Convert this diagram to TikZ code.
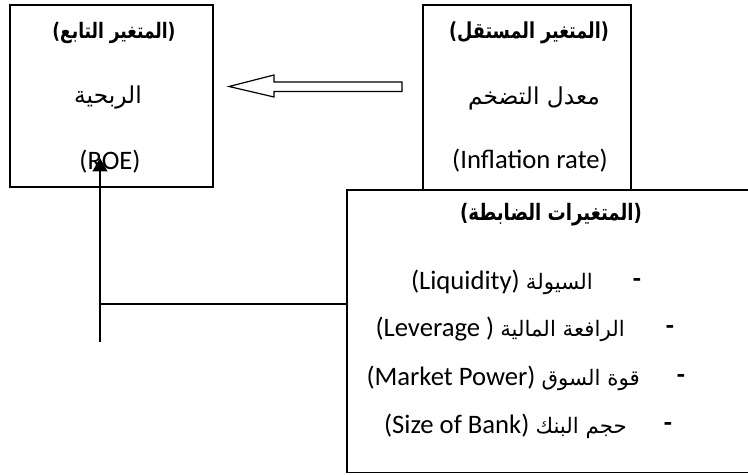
\documentclass[tikz,border=0pt]{standalone}
\usepackage{fontspec}
\setmainfont{Carlito}
\newfontfamily\arabicfont[Script=Arabic]{DejaVu Sans}
\newfontfamily\arabicbold[Script=Arabic,FakeStretch=0.8]{DejaVu Sans Bold}
\newfontfamily\dvsb[FakeStretch=0.8]{DejaVu Sans Bold}
\TeXXeTstate=1
\usetikzlibrary{arrows.meta}
\newcommand{\artitle}[1]{{\dvsb(}\beginR #1\endR{\dvsb)}}
\newcommand{\arword}[1]{{\arabicfont\fontsize{16}{19}\selectfont\beginR #1\endR}}
\begin{document}
\begin{tikzpicture}[x=0.75pt,y=-0.75pt,
  box/.style={draw,line width=1.2pt,fill=white,inner sep=0pt},
  conn/.style={line width=1.5pt},
  hollow/.style={line width=0.9pt,fill=white},
  lat/.style={inner sep=0pt,font=\fontsize{20}{24}\selectfont},
  dashmark/.style={inner sep=0pt,font=\bfseries\fontsize{20}{24}\selectfont},
  ar/.style={inner sep=0pt,font=\arabicfont\fontsize{17.5}{21}\selectfont},
  arb/.style={inner sep=0pt,font=\arabicbold\fontsize{#1}{20}\selectfont},
  arb/.default=16]
\clip (0,0) rectangle (748,474);
% boxes
\node[box,minimum width=152.25pt,minimum height=136.5pt] (dep) at (111.5,96) {};
\node[box,minimum width=156pt,minimum height=138.75pt] (ind) at (527,97.5) {};
\node[box,minimum width=309.75pt,minimum height=212pt] (ctl) at (553.5,331.3) {};
% left box texts
\node[arb=16] (deptitle) at (114,33) {\artitle{المتغير التابع}};
\node[ar] (depname) at (108,97) {\beginR الربحية\endR};
\node[lat] (depen) at (110,162) {(ROE)};
% right box texts
\node[arb=16.5] (indtitle) at (529,33) {\artitle{المتغير المستقل}};
\node[ar] (indname) at (534,98) {\beginR معدل التضخم\endR};
\node[lat] (inden) at (530,161) {(Inflation rate)};
% control box texts
\node[arb=17] (ctltitle) at (551,215) {\artitle{المتغيرات الضابطة}};
\node[lat,anchor=east] (liq) at (593,282) {(Liquidity) \arword{السيولة}};
\node[dashmark] (liqd) at (637,283) {-};
\node[lat,anchor=east] (lev) at (625,329) {(Leverage ) \arword{الرافعة المالية}};
\node[dashmark] (levd) at (670,330) {-};
\node[lat,anchor=east] (mkt) at (640,378) {(Market Power) \arword{قوة السوق}};
\node[dashmark] (mktd) at (681,379) {-};
\node[lat,anchor=east] (siz) at (627,426) {(Size of Bank) \arword{حجم البنك}};
\node[dashmark] (sizd) at (668,427) {-};
% hollow arrow from independent to dependent
\draw[hollow] (402,82) -- (274,82) -- (274,75) -- (229,86.5) -- (274,97) -- (274,91.5) -- (402,91.5) -- cycle;
% connector from control variables
\coordinate (cstart) at (100,342);
\coordinate (cj) at (100,304);
\coordinate (roetip) at (100,158);
\draw[conn,-{Triangle[width=11pt,length=10pt]}] (cstart) -- (roetip);
\draw[conn] (cj) -- (cj -| ctl.west);
\end{tikzpicture}
\end{document}
